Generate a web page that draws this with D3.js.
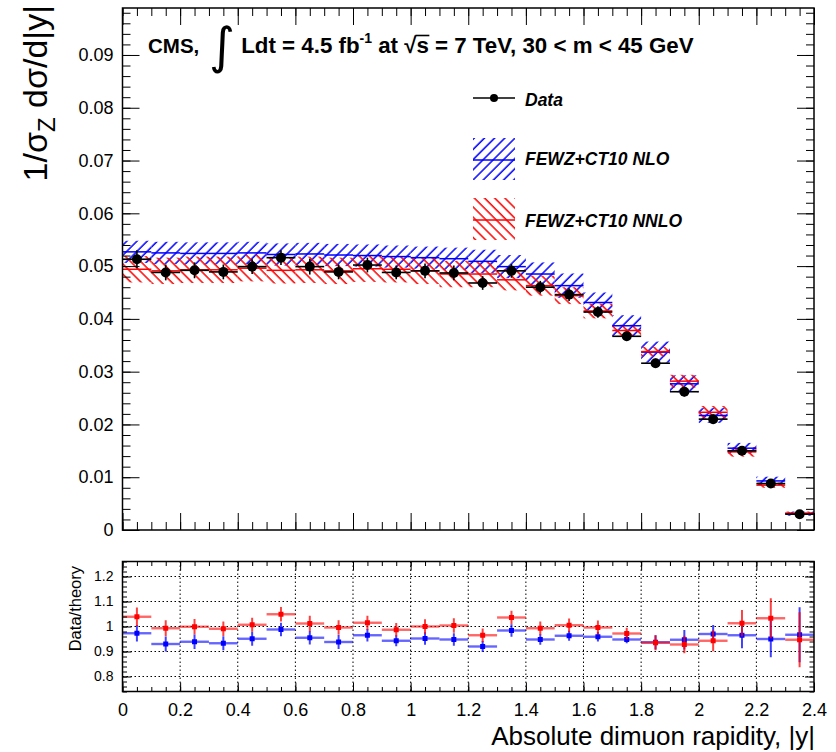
<!DOCTYPE html>
<html><head><meta charset="utf-8">
<script src="https://cdn.jsdelivr.net/npm/d3@7"></script>
<style>body{margin:0;background:#fff}</style>
</head><body>
<script>
// ---------------- data ----------------
const binCenters = [0.05,0.15,0.25,0.35,0.45,0.55,0.65,0.75,0.85,0.95,1.05,1.15,1.25,1.35,1.45,1.55,1.65,1.75,1.85,1.95,2.05,2.15,2.25,2.35];
const binHalf = 0.05;
const dataVal = [0.0513,0.0488,0.0492,0.0489,0.0499,0.0516,0.0499,0.0489,0.0502,0.0488,0.0491,0.0487,0.0468,0.0491,0.0460,0.0446,0.0413,0.0367,0.0316,0.0262,0.0210,0.0150,0.0088,0.0030];
const dataErr = [0.0017,0.0015,0.0015,0.0014,0.0014,0.0014,0.0015,0.0014,0.0014,0.0013,0.0014,0.0014,0.0013,0.0013,0.0012,0.0012,0.0011,0.0009,0.0009,0.0009,0.0009,0.0008,0.0007,0.0003];
const nloVal  = [0.0527,0.0525,0.0524,0.0524,0.0525,0.0522,0.0523,0.0521,0.0520,0.0518,0.0516,0.0514,0.0509,0.0499,0.0485,0.0463,0.0431,0.0387,0.0337,0.0277,0.0217,0.0155,0.0093,0.0031];
const nloErr  = [0.0021,0.0021,0.0021,0.0021,0.0021,0.0021,0.0021,0.0021,0.0021,0.0021,0.0021,0.0021,0.0022,0.0022,0.0022,0.0023,0.0019,0.0020,0.0020,0.0016,0.0014,0.0010,0.0008,0.0004];
const nnloVal = [0.0494,0.0491,0.0493,0.0493,0.0496,0.0492,0.0493,0.0491,0.0495,0.0494,0.0491,0.0485,0.0485,0.0474,0.0463,0.0444,0.0415,0.0378,0.0338,0.0282,0.0223,0.0148,0.0085,0.0032];
const nnloErr = [0.0025,0.0025,0.0025,0.0025,0.0025,0.0025,0.0025,0.0025,0.0025,0.0025,0.0025,0.0025,0.0025,0.0020,0.0019,0.0016,0.0014,0.0011,0.0009,0.0012,0.0012,0.0009,0.0005,0.0003];
const ratioNLO     = [0.973,0.930,0.939,0.933,0.951,0.988,0.955,0.938,0.965,0.943,0.952,0.948,0.920,0.984,0.948,0.963,0.959,0.948,0.937,0.947,0.970,0.965,0.950,0.967];
const ratioNLOErr  = [0.033,0.030,0.029,0.028,0.028,0.027,0.027,0.028,0.025,0.022,0.025,0.025,0.022,0.025,0.021,0.020,0.019,0.015,0.028,0.039,0.036,0.052,0.073,0.110];
const ratioNNLO    = [1.039,0.993,0.999,0.991,1.007,1.049,1.012,0.996,1.015,0.987,1.000,1.004,0.965,1.036,0.993,1.005,0.996,0.972,0.935,0.928,0.943,1.013,1.033,0.947];
const ratioNNLOErr = [0.037,0.032,0.031,0.029,0.028,0.029,0.031,0.029,0.028,0.027,0.029,0.029,0.027,0.027,0.027,0.027,0.028,0.023,0.030,0.035,0.042,0.053,0.080,0.110];
const mainYTicks  = [0,0.01,0.02,0.03,0.04,0.05,0.06,0.07,0.08,0.09];
const xTicks      = [0,0.2,0.4,0.6,0.8,1.0,1.2,1.4,1.6,1.8,2.0,2.2,2.4];
const ratioYTicks = [0.8,0.9,1.0,1.1,1.2];
const legendLabels = ["Data","FEWZ+CT10 NLO","FEWZ+CT10 NNLO"];

// ---------------- layout ----------------
const W = 836, H = 752;
const FONT = "'Liberation Sans', Arial, Helvetica, sans-serif";
const BLUE = "#0000ff", RED = "#ff0000";
const svg = d3.select("body").append("svg").attr("width", W).attr("height", H)
  .style("font-family", FONT);

const L = 122.5, R = 814;
const x = d3.scaleLinear().domain([0, 2.4]).range([L, R]);
const y = d3.scaleLinear().domain([0, 0.0989]).range([530, 8]);
const yr = d3.scaleLinear().domain([0.74, 1.26]).range([691.5, 561.5]);

const defs = svg.append("defs");
function hatch(id, color, angle) {
  const p = defs.append("pattern").attr("id", id).attr("patternUnits", "userSpaceOnUse")
    .attr("width", 7.2).attr("height", 7.2).attr("patternTransform", `rotate(${angle})`);
  p.append("line").attr("x1", 1).attr("y1", 0).attr("x2", 1).attr("y2", 7.2)
    .attr("stroke", color).attr("stroke-width", 1.5);
}
hatch("hb", BLUE, 45);
hatch("hr", RED, -45);

const minorSteps = (lo, hi, step) => d3.range(Math.round(lo/step), Math.round(hi/step)+1).map(k => +(k*step).toFixed(4));

// ---------------- main panel ----------------
const main = svg.append("g");
const idx = d3.range(binCenters.length);
const xl = i => x(binCenters[i] - binHalf), xr = i => x(binCenters[i] + binHalf);

main.append("g").selectAll("rect").data(idx).join("rect")
  .attr("x", xl).attr("width", i => xr(i) - xl(i))
  .attr("y", i => y(nloVal[i] + nloErr[i]))
  .attr("height", i => y(nloVal[i] - nloErr[i]) - y(nloVal[i] + nloErr[i]))
  .attr("fill", "url(#hb)");
main.append("g").selectAll("rect").data(idx).join("rect")
  .attr("x", xl).attr("width", i => xr(i) - xl(i))
  .attr("y", i => y(nnloVal[i] + nnloErr[i]))
  .attr("height", i => y(nnloVal[i] - nnloErr[i]) - y(nnloVal[i] + nnloErr[i]))
  .attr("fill", "url(#hr)");
main.append("g").selectAll("line").data(idx).join("line")
  .attr("x1", xl).attr("x2", xr).attr("y1", i => y(nloVal[i])).attr("y2", i => y(nloVal[i]))
  .attr("stroke", BLUE).attr("stroke-width", 1.5);
main.append("g").selectAll("line").data(idx).join("line")
  .attr("x1", xl).attr("x2", xr).attr("y1", i => y(nnloVal[i])).attr("y2", i => y(nnloVal[i]))
  .attr("stroke", RED).attr("stroke-width", 1.5);

const dg = main.append("g");
dg.selectAll("line.h").data(idx).join("line").attr("class", "h")
  .attr("x1", xl).attr("x2", xr).attr("y1", i => y(dataVal[i])).attr("y2", i => y(dataVal[i]))
  .attr("stroke", "#000").attr("stroke-width", 1.6);
dg.selectAll("line.v").data(idx).join("line").attr("class", "v")
  .attr("x1", i => x(binCenters[i])).attr("x2", i => x(binCenters[i]))
  .attr("y1", i => y(dataVal[i] - dataErr[i])).attr("y2", i => y(dataVal[i] + dataErr[i]))
  .attr("stroke", "#000").attr("stroke-width", 1.6);
dg.selectAll("circle").data(idx).join("circle")
  .attr("cx", i => x(binCenters[i])).attr("cy", i => y(dataVal[i])).attr("r", 5).attr("fill", "#000");

function tickAxis(g, axis) { g.call(axis); g.select(".domain").remove(); g.selectAll("line").attr("stroke", "#000").attr("stroke-width", 1); }
const fmtMain = d => d === 0 ? "0" : d.toFixed(2);
const ayMain = main.append("g").attr("transform", `translate(${L},0)`);
tickAxis(ayMain, d3.axisLeft(y).tickValues(mainYTicks).tickSizeInner(-17).tickSizeOuter(0).tickPadding(9).tickFormat(fmtMain));
ayMain.selectAll("text").attr("font-size", 18).attr("font-family", FONT).attr("fill", "#000");
tickAxis(main.append("g").attr("transform", `translate(${L},0)`), d3.axisLeft(y).tickValues(minorSteps(0, 0.098, 0.002)).tickSizeInner(-8).tickSizeOuter(0).tickFormat(""));
tickAxis(main.append("g").attr("transform", `translate(${R},0)`), d3.axisRight(y).tickValues(mainYTicks).tickSizeInner(-17).tickSizeOuter(0).tickFormat(""));
tickAxis(main.append("g").attr("transform", `translate(${R},0)`), d3.axisRight(y).tickValues(minorSteps(0, 0.098, 0.002)).tickSizeInner(-8).tickSizeOuter(0).tickFormat(""));
tickAxis(main.append("g").attr("transform", `translate(0,530)`), d3.axisBottom(x).tickValues(xTicks).tickSizeInner(-17).tickSizeOuter(0).tickFormat(""));
tickAxis(main.append("g").attr("transform", `translate(0,530)`), d3.axisBottom(x).tickValues(minorSteps(0, 2.4, 0.05)).tickSizeInner(-8).tickSizeOuter(0).tickFormat(""));
tickAxis(main.append("g").attr("transform", `translate(0,8)`), d3.axisTop(x).tickValues(xTicks).tickSizeInner(-17).tickSizeOuter(0).tickFormat(""));
tickAxis(main.append("g").attr("transform", `translate(0,8)`), d3.axisTop(x).tickValues(minorSteps(0, 2.4, 0.05)).tickSizeInner(-8).tickSizeOuter(0).tickFormat(""));
main.append("rect").attr("x", L).attr("y", 8).attr("width", R - L).attr("height", 522)
  .attr("fill", "none").attr("stroke", "#000").attr("stroke-width", 1.5);

// y title
const yt = svg.append("text").attr("transform", "translate(47,5) rotate(-90)")
  .attr("text-anchor", "end").attr("font-size", 34).attr("fill", "#000");
yt.append("tspan").text("1/σ");
yt.append("tspan").text("Z").attr("font-size", 24).attr("dy", 8);
yt.append("tspan").text(" dσ/d|y|").attr("dy", -8);

// title
const tt = svg.append("text").attr("x", 148).attr("y", 53).attr("font-size", 22.3)
  .attr("font-weight", "bold").attr("fill", "#000");
tt.append("tspan").text("CMS, ").attr("font-size", 20.5);
tt.append("tspan").text("∫").attr("font-family", "'DejaVu Sans', sans-serif").attr("font-weight", "normal")
  .attr("font-size", 50).attr("dy", 10).attr("dx", 4);
tt.append("tspan").text(" Ldt = 4.5 fb").attr("dy", -10);
tt.append("tspan").text("-1").attr("font-size", 14).attr("dy", -10);
tt.append("tspan").text(" at ").attr("dy", 10);
tt.append("tspan").text("√");
tt.append("tspan").text("s");
tt.append("tspan").text(" = 7 TeV, 30 < m < 45 GeV");
{
  const full = tt.text();
  const si = full.indexOf("√") + 1;
  const e = tt.node().getExtentOfChar(si);
  const e2 = tt.node().getExtentOfChar(si - 1);
  svg.append("line").attr("x1", e2.x + e2.width - 1).attr("x2", e.x + e.width + 0.5)
    .attr("y1", e2.y + 2.5).attr("y2", e2.y + 2.5).attr("stroke", "#000").attr("stroke-width", 1.6);
}

// legend
const lg = svg.append("g");
lg.append("line").attr("x1", 473).attr("x2", 515).attr("y1", 98).attr("y2", 98).attr("stroke", "#000").attr("stroke-width", 1.6);
lg.append("circle").attr("cx", 494).attr("cy", 98).attr("r", 4).attr("fill", "#000");
lg.append("rect").attr("x", 473).attr("y", 138).attr("width", 42).attr("height", 42).attr("fill", "url(#hb)");
lg.append("line").attr("x1", 473).attr("x2", 515).attr("y1", 160).attr("y2", 160).attr("stroke", BLUE).attr("stroke-width", 1.5);
lg.append("rect").attr("x", 473).attr("y", 198).attr("width", 42).attr("height", 42).attr("fill", "url(#hr)");
lg.append("line").attr("x1", 473).attr("x2", 515).attr("y1", 220).attr("y2", 220).attr("stroke", RED).attr("stroke-width", 1.5);
[106, 165, 227].forEach((yy, k) => lg.append("text").attr("x", 525).attr("y", yy).text(legendLabels[k])
  .attr("font-size", 17.5).attr("font-weight", "bold").attr("font-style", "italic").attr("fill", "#000"));

// ---------------- ratio panel ----------------
const rp = svg.append("g");
rp.append("g").selectAll("line").data(ratioYTicks).join("line")
  .attr("x1", L).attr("x2", R).attr("y1", d => yr(d)).attr("y2", d => yr(d))
  .attr("stroke", "#000").attr("stroke-width", 1).attr("stroke-dasharray", "1.5,2.5");
rp.append("g").selectAll("line").data(xTicks.slice(1, -1)).join("line")
  .attr("x1", d => x(d)).attr("x2", d => x(d)).attr("y1", 561.5).attr("y2", 691.5)
  .attr("stroke", "#000").attr("stroke-width", 1).attr("stroke-dasharray", "1.5,2.5");

function ratioSeries(vals, errs, color) {
  const g = rp.append("g");
  g.selectAll("line.h").data(idx).join("line").attr("class", "h")
    .attr("x1", xl).attr("x2", xr).attr("y1", i => yr(vals[i])).attr("y2", i => yr(vals[i]))
    .attr("stroke", color).attr("stroke-width", 2.4).attr("stroke-opacity", 0.6);
  g.selectAll("line.v").data(idx).join("line").attr("class", "v")
    .attr("x1", i => x(binCenters[i])).attr("x2", i => x(binCenters[i]))
    .attr("y1", i => yr(vals[i] - errs[i])).attr("y2", i => yr(vals[i] + errs[i]))
    .attr("stroke", color).attr("stroke-width", 2).attr("stroke-opacity", 0.75);
  g.selectAll("rect").data(idx).join("rect")
    .attr("x", i => x(binCenters[i]) - 2.5).attr("y", i => yr(vals[i]) - 2.5)
    .attr("width", 5).attr("height", 5).attr("fill", color);
}
ratioSeries(ratioNLO, ratioNLOErr, BLUE);
ratioSeries(ratioNNLO, ratioNNLOErr, RED);

const fmtR = d => String(+d.toFixed(1));
const ayR = rp.append("g").attr("transform", `translate(${L},0)`);
tickAxis(ayR, d3.axisLeft(yr).tickValues(ratioYTicks).tickSizeInner(-9).tickSizeOuter(0).tickPadding(9).tickFormat(fmtR));
ayR.selectAll("text").attr("font-size", 14).attr("font-family", FONT).attr("fill", "#000");
tickAxis(rp.append("g").attr("transform", `translate(${L},0)`), d3.axisLeft(yr).tickValues(minorSteps(0.74, 1.26, 0.02)).tickSizeInner(-4.5).tickSizeOuter(0).tickFormat(""));
tickAxis(rp.append("g").attr("transform", `translate(${R},0)`), d3.axisRight(yr).tickValues(ratioYTicks).tickSizeInner(-9).tickSizeOuter(0).tickFormat(""));
tickAxis(rp.append("g").attr("transform", `translate(${R},0)`), d3.axisRight(yr).tickValues(minorSteps(0.74, 1.26, 0.02)).tickSizeInner(-4.5).tickSizeOuter(0).tickFormat(""));
const axR = rp.append("g").attr("transform", `translate(0,691.5)`);
tickAxis(axR, d3.axisBottom(x).tickValues(xTicks).tickSizeInner(-9).tickSizeOuter(0).tickPadding(12).tickFormat(fmtR));
axR.selectAll("text").attr("font-size", 18).attr("font-family", FONT).attr("fill", "#000");
tickAxis(rp.append("g").attr("transform", `translate(0,691.5)`), d3.axisBottom(x).tickValues(minorSteps(0, 2.4, 0.05)).tickSizeInner(-4.5).tickSizeOuter(0).tickFormat(""));
tickAxis(rp.append("g").attr("transform", `translate(0,561.5)`), d3.axisTop(x).tickValues(xTicks).tickSizeInner(-9).tickSizeOuter(0).tickFormat(""));
tickAxis(rp.append("g").attr("transform", `translate(0,561.5)`), d3.axisTop(x).tickValues(minorSteps(0, 2.4, 0.05)).tickSizeInner(-4.5).tickSizeOuter(0).tickFormat(""));
rp.append("rect").attr("x", L).attr("y", 561.5).attr("width", R - L).attr("height", 130)
  .attr("fill", "none").attr("stroke", "#000").attr("stroke-width", 1.5);

svg.append("text").attr("transform", "translate(81,566) rotate(-90)").attr("text-anchor", "end")
  .attr("font-size", 16.5).attr("fill", "#000").text("Data/theory");
svg.append("text").attr("x", 815).attr("y", 745).attr("text-anchor", "end")
  .attr("font-size", 26).attr("fill", "#000").text("Absolute dimuon rapidity, |y|");
</script>
</body></html>
